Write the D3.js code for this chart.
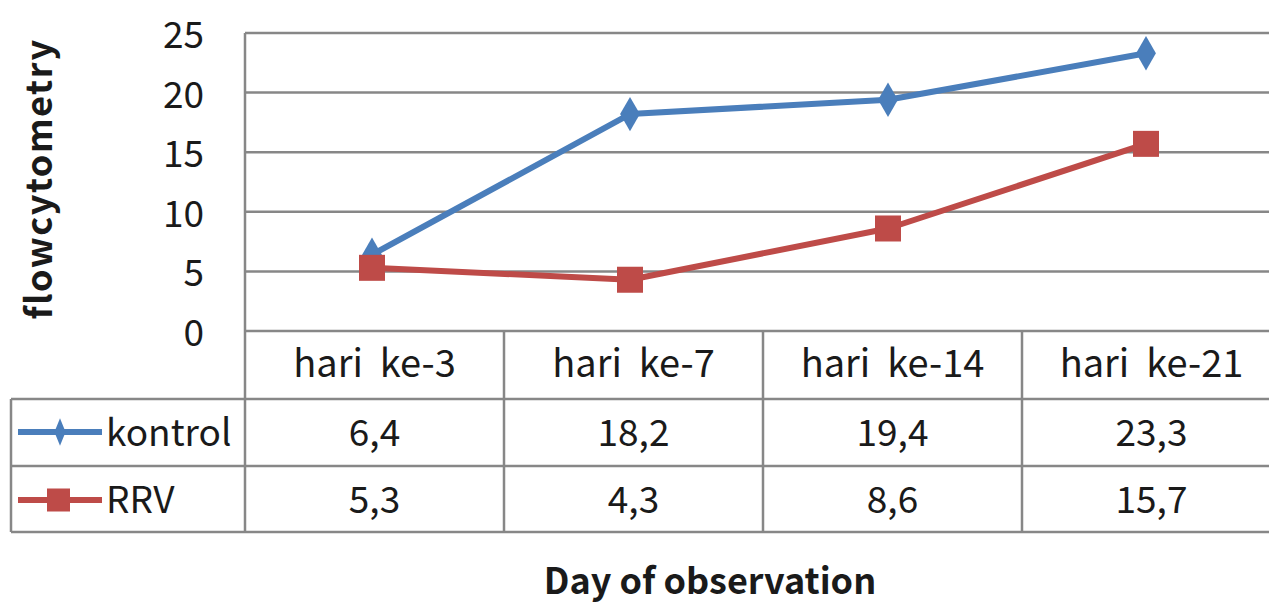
<!DOCTYPE html>
<html>
<head>
<meta charset="utf-8">
<script src="https://cdn.jsdelivr.net/npm/d3@7"></script>
<style>
  html, body { margin: 0; padding: 0; background: #fff; }
  svg { display: block; }
  text { font-family: "Noto Sans CJK KR", "Noto Sans", sans-serif; fill: #1a1a1a; }
</style>
</head>
<body>
<svg id="chart" width="1269" height="604"></svg>
<script>
const categories = ["hari  ke-3", "hari  ke-7", "hari  ke-14", "hari  ke-21"];
const kontrol = [6.4, 18.2, 19.4, 23.3];
const rrv = [5.3, 4.3, 8.6, 15.7];
const kontrolLabels = ["6,4", "18,2", "19,4", "23,3"];
const rrvLabels = ["5,3", "4,3", "8,6", "15,7"];
const yTicks = [0, 5, 10, 15, 20, 25];
const seriesNames = ["kontrol", "RRV"];

const svg = d3.select("#chart");
const gridColor = "#878787";
const blue = "#4A7EBB";
const red = "#BE4B48";

const plotLeft = 245, plotRight = 1281;
const y = d3.scaleLinear().domain([0, 25]).range([331, 33]);
const x = d3.scaleBand().domain(categories).range([plotLeft - 2, plotRight - 6]);
const xt = d3.scaleBand().domain(categories).range([plotLeft, plotRight]);

// gridlines
svg.append("g").selectAll("line").data(yTicks).join("line")
  .attr("x1", plotLeft).attr("x2", plotRight)
  .attr("y1", d => y(d)).attr("y2", d => y(d))
  .attr("stroke", gridColor).attr("stroke-width", 2.5);

// y tick labels
svg.append("g").selectAll("text").data(yTicks).join("text")
  .attr("x", 204).attr("y", d => y(d) - 1)
  .attr("text-anchor", "end").attr("dominant-baseline", "central")
  .attr("font-size", 37).text(d => d);

// y axis title
svg.append("text")
  .attr("transform", `translate(36, ${(y(0) + y(25)) / 2 - 3}) rotate(-90)`)
  .attr("text-anchor", "middle").attr("dominant-baseline", "central")
  .attr("font-size", 36).attr("font-weight", "bold").attr("fill", "#000")
  .attr("letter-spacing", 1.5)
  .text("flowcytometry");

// table
const rowTop = [331, 399, 466, 532];
const tbl = svg.append("g").attr("stroke", gridColor).attr("stroke-width", 2.5);
tbl.append("line").attr("x1", plotLeft).attr("x2", plotLeft).attr("y1", y(25)).attr("y2", rowTop[3]);
tbl.append("line").attr("x1", 11).attr("x2", 11).attr("y1", rowTop[1]).attr("y2", rowTop[3]);
tbl.selectAll(".v").data(categories.slice(1)).join("line")
  .attr("x1", d => xt(d)).attr("x2", d => xt(d)).attr("y1", rowTop[0]).attr("y2", rowTop[3]);
tbl.selectAll(".h").data(rowTop.slice(1)).join("line")
  .attr("x1", 11).attr("x2", plotRight).attr("y1", d => d).attr("y2", d => d);

// category header
svg.append("g").selectAll("text").data(categories).join("text")
  .attr("x", d => xt(d) + xt.bandwidth() / 2).attr("y", 377)
  .attr("text-anchor", "middle").attr("font-size", 38)
  .attr("xml:space", "preserve").style("white-space", "pre")
  .text(d => d);

// table values
const valRows = [kontrolLabels, rrvLabels];
const valBase = [446, 513];
valRows.forEach((labels, r) => {
  svg.append("g").selectAll("text").data(labels).join("text")
    .attr("x", (d, i) => xt(categories[i]) + xt.bandwidth() / 2)
    .attr("y", valBase[r])
    .attr("text-anchor", "middle").attr("font-size", 37).text(d => d);
});

// legend keys
const legY = [432, 500];
const colors = [blue, red];
seriesNames.forEach((name, r) => {
  svg.append("line").attr("x1", 18).attr("x2", 102).attr("y1", legY[r]).attr("y2", legY[r])
    .attr("stroke", colors[r]).attr("stroke-width", 6);
  svg.append("text").attr("x", 106).attr("y", valBase[r]).attr("font-size", 37).text(name);
});
svg.append("path").attr("d", d3.symbol(d3.symbolDiamond, 220)())
  .attr("transform", `translate(60, ${legY[0]}) scale(0.7, 1)`).attr("fill", blue);
svg.append("rect").attr("x", 47).attr("y", legY[1] - 11.5).attr("width", 23).attr("height", 23).attr("fill", red);

// lines
const lineGen = d3.line().x((d, i) => x(categories[i]) + x.bandwidth() / 2).y(d => y(d));
svg.append("path").datum(kontrol).attr("d", lineGen)
  .attr("fill", "none").attr("stroke", blue).attr("stroke-width", 6).attr("stroke-linejoin", "round");
svg.append("path").datum(rrv).attr("d", lineGen)
  .attr("fill", "none").attr("stroke", red).attr("stroke-width", 6).attr("stroke-linejoin", "round");

// markers
svg.append("g").selectAll("path").data(kontrol).join("path")
  .attr("d", d3.symbol(d3.symbolDiamond, 340)())
  .attr("transform", (d, i) => `translate(${x(categories[i]) + x.bandwidth() / 2}, ${y(d)})`)
  .attr("fill", blue);
svg.append("g").selectAll("rect").data(rrv).join("rect")
  .attr("x", (d, i) => x(categories[i]) + x.bandwidth() / 2 - 13)
  .attr("y", d => y(d) - 13).attr("width", 26).attr("height", 26)
  .attr("fill", red);

// x axis title
svg.append("text").attr("x", 710).attr("y", 594)
  .attr("text-anchor", "middle").attr("font-size", 36).attr("font-weight", "bold").attr("fill", "#000")
  .text("Day of observation");
</script>
</body>
</html>
